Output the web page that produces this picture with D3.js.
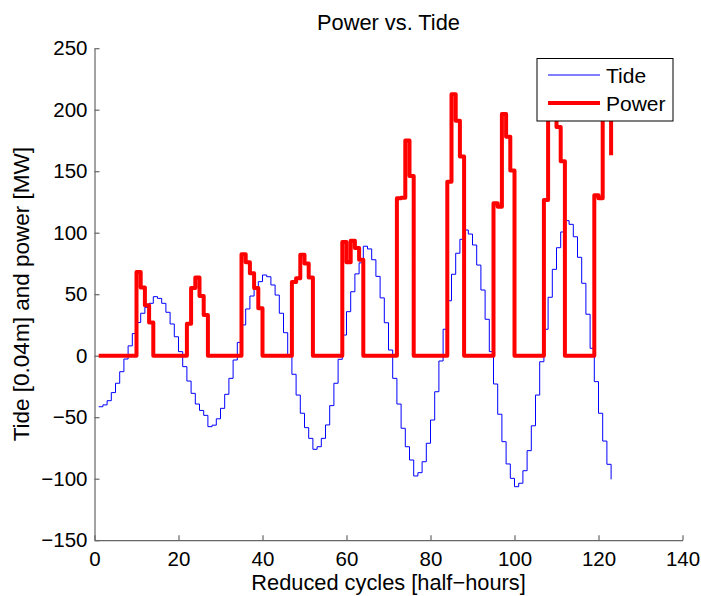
<!DOCTYPE html>
<html>
<head>
<meta charset="utf-8">
<script src="https://cdn.jsdelivr.net/npm/d3@7/dist/d3.min.js"></script>
<style>
  body { margin: 0; background: #fff; }
  text { font-family: "Liberation Sans", Arial, Helvetica, sans-serif; fill: #000; }
</style>
</head>
<body>
<svg id="chart" width="701" height="596"></svg>
<script>
// Half-hour sample index (1..123)
const cycles = d3.range(1, 124);

// Tide level in units of 0.04 m
const tide = [
  -41.5, -40, -36.6, -30, -22.4, -13, -2.7, 8, 18, 27,
  34.5, 39.3, 42.6, 48, 46.6, 42.6, 35.3, 25.8, 15.4, 3.3,
  -8.9, -20.6, -30.6, -39.3, -44.5, -48.5, -57.7, -56.5, -51.3, -42.8,
  -31.4, -18.4, -3.5, 10.8, 25, 38, 48.5, 55.6, 60.2, 65.6,
  64.2, 57.5, 49.3, 34.5, 18.7, 0.6, -15.1, -32, -46.8, -58.5,
  -67.2, -76.1, -74, -67.2, -56.3, -40.6, -22.4, -2.9, 16.8, 35.8,
  52, 66.5, 75.5, 89, 86.8, 78, 64.5, 47, 26.8, 4.6,
  -18.4, -39.3, -59, -74, -84.8, -97.8, -95.1, -86.2, -71.2, -52.3,
  -29.3, -4.3, 21.5, 44.7, 66.2, 83.3, 94.6, 102.2, 98.9, 90,
  73.7, 53.4, 29.6, 3.3, -23, -47.6, -69.9, -88, -99.7, -106.5,
  -103.7, -93.5, -77.2, -57, -32, -4.9, 21.5, 47.5, 70.2, 87.8,
  100.6, 109.8, 106.8, 96.7, 80, 58.9, 33.7, 6, -21.1, -46.8,
  -69.4, -88.3, -100.5
];

// Generated power in MW
const power = [
  0, 0, 0, 0, 0, 0, 0, 0, 0, 68,
  55.5, 41, 27, 0, 0, 0, 0, 0, 0, 0,
  0, 26, 55, 63.5, 48.5, 33, 0, 0, 0, 0,
  0, 0, 0, 0, 82.5, 76, 67, 55, 38.5, 0,
  0, 0, 0, 0, 0, 0, 60, 63, 82, 75,
  63.5, 0, 0, 0, 0, 0, 0, 0, 92.5, 76,
  93.5, 87.5, 78, 0, 0, 0, 0, 0, 0, 0,
  0, 128, 128.5, 175, 146, 0, 0, 0, 0, 0,
  0, 0, 0, 141.5, 212.5, 191, 162, 0, 0, 0,
  0, 0, 0, 0, 124, 121, 196.5, 178, 150.5, 0,
  0, 0, 0, 0, 0, 0, 126.5, 222, 200, 186,
  158, 0, 0, 0, 0, 0, 0, 0, 130.5, 128,
  215, 198, 163
];

const xTicks = [0, 20, 40, 60, 80, 100, 120, 140];
const yTicks = [-150, -100, -50, 0, 50, 100, 150, 200, 250];
const seriesNames = ["Tide", "Power"];
const seriesColors = ["#0000ff", "#ff0000"];
const seriesWidths = [1, 4];

const svg = d3.select("#chart");

const x = d3.scaleLinear().domain([0, 140]).range([94.5, 682.5]);
const y = d3.scaleLinear().domain([-150, 250]).range([540.2, 48.2]);

const fmt = v => (v < 0 ? "\u2212" + Math.abs(v) : String(v));
const axisColor = "#666";

// Axes with inward ticks
const gx = svg.append("g")
  .attr("transform", `translate(0,${y(-150)})`)
  .call(d3.axisBottom(x).tickValues(xTicks).tickFormat(fmt)
    .tickSizeInner(-5).tickSizeOuter(0).tickPadding(11));
const gy = svg.append("g")
  .attr("transform", `translate(${x(0)},0)`)
  .call(d3.axisLeft(y).tickValues(yTicks).tickFormat(fmt)
    .tickSizeInner(-5).tickSizeOuter(0).tickPadding(7));

[gx, gy].forEach(g => {
  g.select(".domain").attr("stroke", axisColor).attr("stroke-width", 1.2);
  g.selectAll(".tick line").attr("stroke", axisColor).attr("stroke-width", 1.2);
  g.selectAll(".tick text").attr("font-size", 20.5)
    .attr("font-family", "'Liberation Sans', Arial, sans-serif").attr("fill", "#000");
});

// Series drawn as stairs
const rows = cycles.map((c, i) => ({ c, tide: tide[i], power: power[i] }));
const keys = ["tide", "power"];
keys.forEach((k, j) => {
  const line = d3.line()
    .x(d => x(d.c))
    .y(d => y(d[k]))
    .curve(d3.curveStepAfter);
  svg.append("path")
    .datum(rows)
    .attr("fill", "none")
    .attr("stroke", seriesColors[j])
    .attr("stroke-width", seriesWidths[j])
    .attr("stroke-linejoin", j === 1 ? "round" : "miter")
    .attr("d", line);
});

// Title and axis labels
svg.append("text")
  .attr("x", (x(0) + x(140)) / 2).attr("y", 30)
  .attr("text-anchor", "middle").attr("font-size", 21.8)
  .text("Power vs. Tide");

svg.append("text")
  .attr("x", (x(0) + x(140)) / 2).attr("y", 589.5)
  .attr("text-anchor", "middle").attr("font-size", 21.8)
  .text("Reduced cycles [half\u2212hours]");

svg.append("text")
  .attr("transform", `translate(29,${(y(-150) + y(250)) / 2}) rotate(-90)`)
  .attr("text-anchor", "middle").attr("font-size", 22.5)
  .text("Tide [0.04m] and power [MW]");

// Legend
const lg = svg.append("g");
lg.append("rect")
  .attr("x", 537).attr("y", 58.5).attr("width", 136).attr("height", 62.5)
  .attr("fill", "#fff").attr("stroke", "#000").attr("stroke-width", 1);
seriesNames.forEach((name, j) => {
  const ly = 75 + j * 28;
  lg.append("line")
    .attr("x1", 548).attr("x2", 600).attr("y1", ly).attr("y2", ly)
    .attr("stroke", seriesColors[j]).attr("stroke-width", seriesWidths[j]);
  lg.append("text")
    .attr("x", 606).attr("y", ly).attr("dy", "0.36em")
    .attr("font-size", 21)
    .text(name);
});
</script>
</body>
</html>
